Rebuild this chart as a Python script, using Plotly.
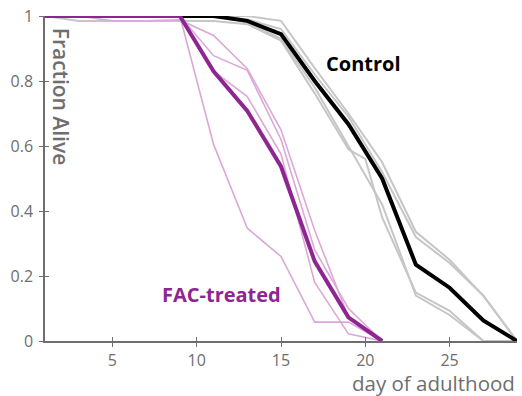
import plotly.graph_objects as go

# ---- data ----
days_odd = [1, 3, 5, 7, 9, 11, 13, 15, 17, 19, 21, 23, 25, 27, 29]
control_mean = [1, 1, 1, 1, 1, 1, 0.985, 0.944, 0.80, 0.667, 0.50, 0.235, 0.164, 0.063, 0]

control_rep_a_days = [1, 3, 5, 7, 9, 11, 13, 15, 17, 19, 21, 23, 25, 27, 29]
control_rep_a = [1, 1, 1, 1, 1, 1, 1, 0.985, 0.84, 0.70, 0.55, 0.336, 0.25, 0.139, 0]
control_rep_b_days = [1, 3, 5, 7, 9, 11, 13, 15, 17, 19, 21, 23, 25, 27, 29]
control_rep_b = [1, 1, 1, 1, 1, 1, 0.99, 0.96, 0.82, 0.69, 0.52, 0.32, 0.24, 0.14, 0]
control_rep_c_days = [1, 3, 5, 7, 9, 11, 13, 15, 17, 19, 20, 21, 23, 25, 27, 29]
control_rep_c = [1, 0.985, 0.985, 0.985, 0.985, 0.985, 0.975, 0.924, 0.762, 0.59, 0.56, 0.38, 0.149, 0.093, 0, 0]
control_rep_d_days = [1, 3, 5, 7, 9, 11, 13, 15, 17, 19, 21, 23, 25, 27, 29]
control_rep_d = [1, 1, 1, 1, 1, 1, 0.98, 0.93, 0.78, 0.60, 0.42, 0.14, 0.08, 0, 0]

fac_days = [1, 3, 5, 7, 9, 11, 13, 15, 17, 19, 21]
fac_mean = [1, 1, 1, 1, 1, 0.83, 0.708, 0.537, 0.245, 0.073, 0]
fac_rep_1 = [1, 1, 1, 1, 1, 0.605, 0.347, 0.26, 0.058, 0.058, 0]
fac_rep_2 = [1, 1, 0.985, 0.985, 0.988, 0.94, 0.838, 0.65, 0.34, 0.073, 0]
fac_rep_3 = [1, 1, 1, 1, 1, 0.878, 0.833, 0.62, 0.28, 0.10, 0]
fac_rep_4 = [1, 1, 1, 1, 1, 0.83, 0.752, 0.575, 0.18, 0.022, 0]

x_ticks = [5, 10, 15, 20, 25]
y_ticks = [0, 0.2, 0.4, 0.6, 0.8, 1]

GRAY = "#C6C6C6"
LPURP = "#DBA8D8"
PURP = "#8E2590"
AXC = "#6E6E6E"
FONT = "Open Sans"

fig = go.Figure()
for xs, ys in [(control_rep_a_days, control_rep_a), (control_rep_b_days, control_rep_b),
               (control_rep_c_days, control_rep_c), (control_rep_d_days, control_rep_d)]:
    fig.add_trace(go.Scatter(x=xs, y=ys, mode="lines", line=dict(color=GRAY, width=2),
                             hoverinfo="skip", showlegend=False))
for ys in [fac_rep_1, fac_rep_2, fac_rep_3, fac_rep_4]:
    fig.add_trace(go.Scatter(x=fac_days, y=ys, mode="lines", line=dict(color=LPURP, width=1.6),
                             hoverinfo="skip", showlegend=False))
fig.add_trace(go.Scatter(x=days_odd, y=control_mean, mode="lines",
                         line=dict(color="black", width=4), showlegend=False))
fig.add_trace(go.Scatter(x=fac_days, y=fac_mean, mode="lines",
                         line=dict(color=PURP, width=4), showlegend=False))
# invisible trace for overlay axes (inside tick halves)
fig.add_trace(go.Scatter(x=[1, 29], y=[0, 1], xaxis="x2", yaxis="y2", mode="markers",
                         marker=dict(opacity=0), hoverinfo="skip", showlegend=False))

axis_common = dict(showgrid=False, zeroline=False, linecolor=AXC, linewidth=1.5,
                   tickcolor=AXC, tickwidth=1.2, ticklen=4,
                   tickfont=dict(family=FONT, size=16, color=AXC))

fig.update_layout(
    width=522, height=396,
    margin=dict(l=45, r=5, t=12, b=55),
    paper_bgcolor="white", plot_bgcolor="white",
    xaxis=dict(range=[1, 29], tickvals=x_ticks, ticks="outside", showline=True,
               ticklabelstandoff=0, **axis_common),
    yaxis=dict(range=[0, 1], tickvals=y_ticks, ticks="outside", showline=True,
               ticklabelstandoff=3, **axis_common),
    xaxis2=dict(range=[1, 29], overlaying="x", tickvals=x_ticks, ticks="inside",
                showline=False, showticklabels=False, showgrid=False, zeroline=False,
                tickcolor=AXC, tickwidth=1.2, ticklen=4, side="bottom", anchor="y2"),
    yaxis2=dict(range=[0, 1], overlaying="y", tickvals=y_ticks, ticks="inside",
                showline=False, showticklabels=False, showgrid=False, zeroline=False,
                tickcolor=AXC, tickwidth=1.2, ticklen=4, side="left", anchor="x2"),
    annotations=[
        dict(text="day of adulthood", xref="paper", yref="paper", x=1.0, y=-0.08,
             xanchor="right", yanchor="top", showarrow=False,
             font=dict(family=FONT, size=20.5, color=AXC)),
        dict(text="Fraction Alive", xref="x", yref="y", x=2.0, y=0.752, textangle=90,
             showarrow=False, font=dict(family=FONT, size=21, color=AXC, weight=600)),
        dict(text="Control", xref="x", yref="y", x=19.92, y=0.853, showarrow=False,
             font=dict(family=FONT, size=20, color="black", weight=700)),
        dict(text="FAC-treated", xref="x", yref="y", x=11.48, y=0.144, showarrow=False,
             font=dict(family=FONT, size=20, color=PURP, weight=700)),
    ],
)

fig.write_html("out.html", config={"displayModeBar": False},
               post_script="document.body.style.margin='0';document.body.style.overflow='hidden';")
